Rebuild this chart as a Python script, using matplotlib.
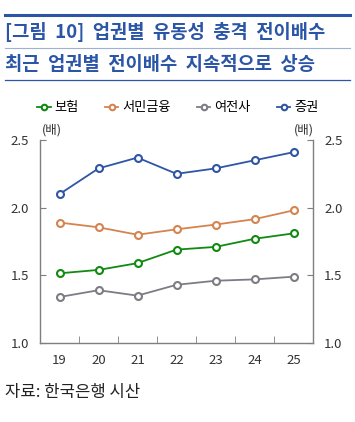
import matplotlib
matplotlib.use("Agg")
import matplotlib.pyplot as plt
from matplotlib.lines import Line2D

plt.rcParams["font.family"] = ["Noto Sans CJK KR", "DejaVu Sans"]

years = ["19", "20", "21", "22", "23", "24", "25"]
series_names = ["보험", "서민금융", "여전사", "증권"]
insurance = [1.515, 1.54, 1.59, 1.69, 1.71, 1.77, 1.81]
microfinance = [1.89, 1.855, 1.80, 1.84, 1.875, 1.915, 1.98]
card_credit = [1.34, 1.39, 1.35, 1.43, 1.46, 1.47, 1.49]
securities = [2.10, 2.29, 2.37, 2.25, 2.29, 2.35, 2.41]
colors = ["#118a11", "#d5834f", "#7c7c84", "#2f55a4"]
yticks = [1.0, 1.5, 2.0, 2.5]

TITLE_C = "#2b55a6"
AX_C = "#7f7f7f"

fig = plt.figure(figsize=(3.55, 4.22), dpi=100)
W, H = 355, 422

def fy(py):
    return 1 - py / H

# title block
fig.add_artist(Line2D([5 / W, 350 / W], [fy(15), fy(15)], color=TITLE_C, lw=2.2))
fig.add_artist(Line2D([5 / W, 350 / W], [fy(48), fy(48)], color="#9db0d6", lw=0.8))
fig.add_artist(Line2D([5 / W, 350 / W], [fy(80), fy(80)], color=TITLE_C, lw=0.9))
fig.text(5 / W, fy(32), "[그림  10]  업권별  유동성  충격  전이배수", color=TITLE_C,
         fontsize=13.5, fontweight="bold", va="center", ha="left")
fig.text(5 / W, fy(64), "최근  업권별  전이배수  지속적으로  상승", color=TITLE_C,
         fontsize=13.5, fontweight="bold", va="center", ha="left")

ax = fig.add_axes([40 / W, fy(343), 273 / W, 203 / H])
x = list(range(len(years)))
data = [insurance, microfinance, card_credit, securities]
handles = []
for vals, c, name in zip(data, colors, series_names):
    h, = ax.plot(x, vals, color=c, lw=1.3, marker="o", ms=5, mfc="white",
                 mec=c, mew=1.5, label=name)
    handles.append(h)

ax.set_xlim(-0.5, len(years) - 0.5)
ax.set_ylim(1.0, 2.5)
ax.set_yticks(yticks)
ax.set_yticklabels([f"{v:.1f}" for v in yticks])
ax.set_xticks(x)
ax.set_xticklabels(years)
ax.set_xticks([i + 0.5 for i in range(len(years) - 1)], minor=True)
ax.tick_params(axis="x", which="major", length=0, labelsize=9.5, pad=8, colors="#333333")
ax.tick_params(axis="x", which="minor", length=5, direction="in", color=AX_C)
ax.tick_params(axis="y", which="major", length=4, direction="in", labelsize=9.5,
               colors="#333333", pad=8, color=AX_C, right=True, labelright=True)
for s in ["left", "right", "bottom"]:
    ax.spines[s].set_color(AX_C)
    ax.spines[s].set_linewidth(1.0)
ax.spines["top"].set_visible(False)

fig.text(52 / W, fy(130), "(배)", fontsize=9, ha="center", va="center", color="#333333")
fig.text(304 / W, fy(130), "(배)", fontsize=9, ha="center", va="center", color="#333333")

fig.legend(handles=handles, loc="center", bbox_to_anchor=(178 / W, fy(108)), ncol=4,
           frameon=False, fontsize=9.5, handlelength=1.0, handletextpad=0.3,
           columnspacing=2.0, markerscale=0.8)

fig.text(5 / W, fy(393), "자료: 한국은행 시산", fontsize=12, ha="left", va="center",
         color="#222222")

fig.savefig("out.png", dpi=100)
